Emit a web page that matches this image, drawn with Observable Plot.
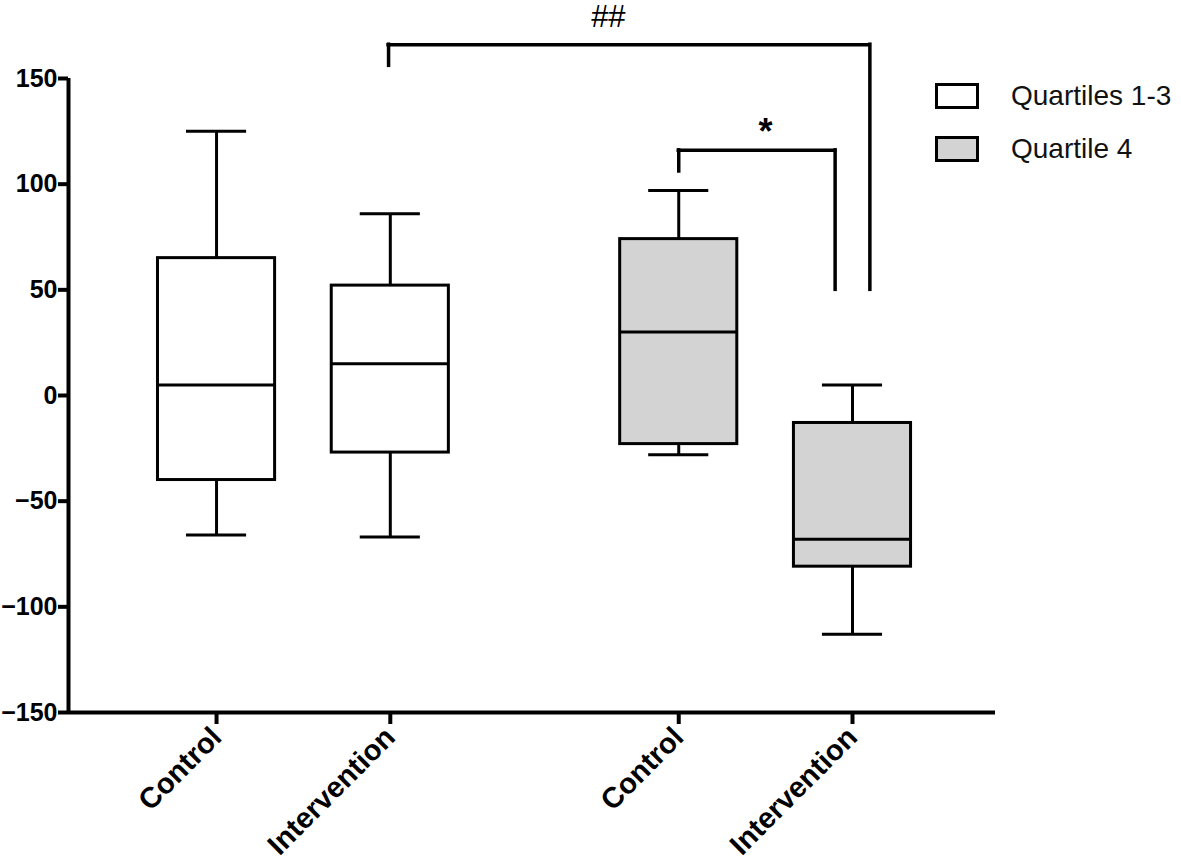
<!DOCTYPE html>
<html>
<head>
<meta charset="utf-8">
<script src="https://cdn.jsdelivr.net/npm/d3@7"></script>
<script src="https://cdn.jsdelivr.net/npm/@observablehq/plot@0.6"></script>
<style>
  body { margin: 0; background: #fff; }
  #wrap { position: relative; width: 1181px; height: 865px; font-family: "Liberation Sans", Arial, sans-serif; }
  .legend { position: absolute; left: 935px; font-size: 28px; color: #111; }
  .legend .item { display: flex; align-items: center; height: 26px; margin-bottom: 27px; }
  .legend .sw { width: 38px; height: 20px; border: 3px solid #000; margin-right: 32px; flex: none; }
  .legend span { white-space: nowrap; }
</style>
</head>
<body>
<div id="wrap"></div>
<script>
// Categories and groups
const labels = ["Control", "Intervention", "Control", "Intervention"];
const groups = ["Quartiles 1-3", "Quartiles 1-3", "Quartile 4", "Quartile 4"];
const groupIndex = [0, 0, 1, 1];
const withinIndex = [0, 1, 0, 1];
// Box statistics
const maxV = [125, 86, 97, 5];
const q3V = [65, 52, 74, -13];
const medV = [5, 15, 30, -68];
const q1V = [-40, -27, -23, -81];
const minV = [-66, -67, -28, -113];
// Significance brackets
const brFrom = [2, 1];
const brTo = [3, 3];
const brTop = [116, 166];
const brLeftEnd = [106, 156];
const brRightEnd = [50, 50];
const brLabel = ["*", "##"];
const legendNames = ["Quartiles 1-3", "Quartile 4"];
const legendColors = ["#ffffff", "#d3d3d3"];
const yTicks = [-150, -100, -50, 0, 50, 100, 150];

const groupGap = 2.66;
const boxHalf = 0.337;
const capHalf = 0.173;
const pos = labels.map((_, i) => groupIndex[i] * groupGap + withinIndex[i]);
const boxes = labels.map((l, i) => ({
  label: l, group: groups[i], x: pos[i],
  max: maxV[i], q3: q3V[i], med: medV[i], q1: q1V[i], min: minV[i]
}));
const brackets = brLabel.map((t, i) => ({
  x1: pos[brFrom[i]] - (i === 0 ? 0 : 0.01), x2: pos[brTo[i]] - (i === 0 ? 0.1 : -0.1),
  top: brTop[i], left: brLeftEnd[i], right: brRightEnd[i], label: t
}));
const xMin = -0.852, xMax = 4.483;
const fillColor = d3.scaleOrdinal(legendNames, legendColors);

const chart = Plot.plot({
  width: 1181,
  height: 865,
  marginLeft: 68,
  marginRight: 186,
  marginTop: 78,
  marginBottom: 153,
  style: { fontFamily: "Liberation Sans, Arial, sans-serif", background: "#fff", color: "#000" },
  x: { domain: [xMin, xMax] },
  y: { domain: [-150, 150] },
  marks: [
    // whiskers
    Plot.ruleX(boxes, { x: "x", y1: "q3", y2: "max", stroke: "#000", strokeWidth: 3 }),
    Plot.ruleX(boxes, { x: "x", y1: "min", y2: "q1", stroke: "#000", strokeWidth: 3 }),
    Plot.ruleY(boxes, { y: "max", x1: d => d.x - capHalf, x2: d => d.x + capHalf, stroke: "#000", strokeWidth: 3 }),
    Plot.ruleY(boxes, { y: "min", x1: d => d.x - capHalf, x2: d => d.x + capHalf, stroke: "#000", strokeWidth: 3 }),
    // boxes
    Plot.rect(boxes, { x1: d => d.x - boxHalf, x2: d => d.x + boxHalf, y1: "q1", y2: "q3",
      fill: d => fillColor(d.group), stroke: "#000", strokeWidth: 3 }),
    Plot.ruleY(boxes, { y: "med", x1: d => d.x - boxHalf, x2: d => d.x + boxHalf, stroke: "#000", strokeWidth: 3 }),
    // brackets
    Plot.ruleY(brackets, { y: "top", x1: "x1", x2: "x2", stroke: "#000", strokeWidth: 3.5, strokeLinecap: "square" }),
    Plot.ruleX(brackets, { x: "x1", y1: "left", y2: "top", stroke: "#000", strokeWidth: 3.5, strokeLinecap: "square" }),
    Plot.ruleX(brackets, { x: "x2", y1: "right", y2: "top", stroke: "#000", strokeWidth: 3.5, strokeLinecap: "square" }),
    Plot.text(brackets.slice(0, 1), { x: d => (d.x1 + d.x2) / 2 + 0.05, y: "top", text: "label", dy: -18, fontSize: 36, fontWeight: "bold", fill: "#000" }),
    Plot.text(brackets.slice(1), { x: d => (d.x1 + d.x2) / 2 - 0.12, y: "top", text: "label", dy: -28, fontSize: 31, fill: "#000" }),
    // axes
    Plot.axisY({ ticks: yTicks, tickSize: 10, tickPadding: 1, strokeWidth: 4,
      fontSize: 25, fontWeight: "bold", fill: "#000", label: null }),
    Plot.axisX({ ticks: pos, tickFormat: (d) => labels[pos.indexOf(d)], tickSize: 12, tickPadding: 8,
      tickRotate: -45, strokeWidth: 4, fontSize: 29, fontWeight: "bold", fill: "#000", label: null }),
    Plot.ruleX([xMin], { y1: -150, y2: 150, stroke: "#000", strokeWidth: 4 }),
    Plot.ruleY([-150], { x1: xMin, x2: xMax, stroke: "#000", strokeWidth: 4 })
  ]
});

const wrap = document.getElementById("wrap");
wrap.appendChild(chart);
const legend = document.createElement("div");
legend.className = "legend";
legend.style.top = "83px";
legendNames.forEach((name, i) => {
  const item = document.createElement("div");
  item.className = "item";
  const sw = document.createElement("div");
  sw.className = "sw";
  sw.style.background = legendColors[i];
  const t = document.createElement("span");
  t.textContent = name;
  item.appendChild(sw);
  item.appendChild(t);
  legend.appendChild(item);
});
wrap.appendChild(legend);
</script>
</body>
</html>
